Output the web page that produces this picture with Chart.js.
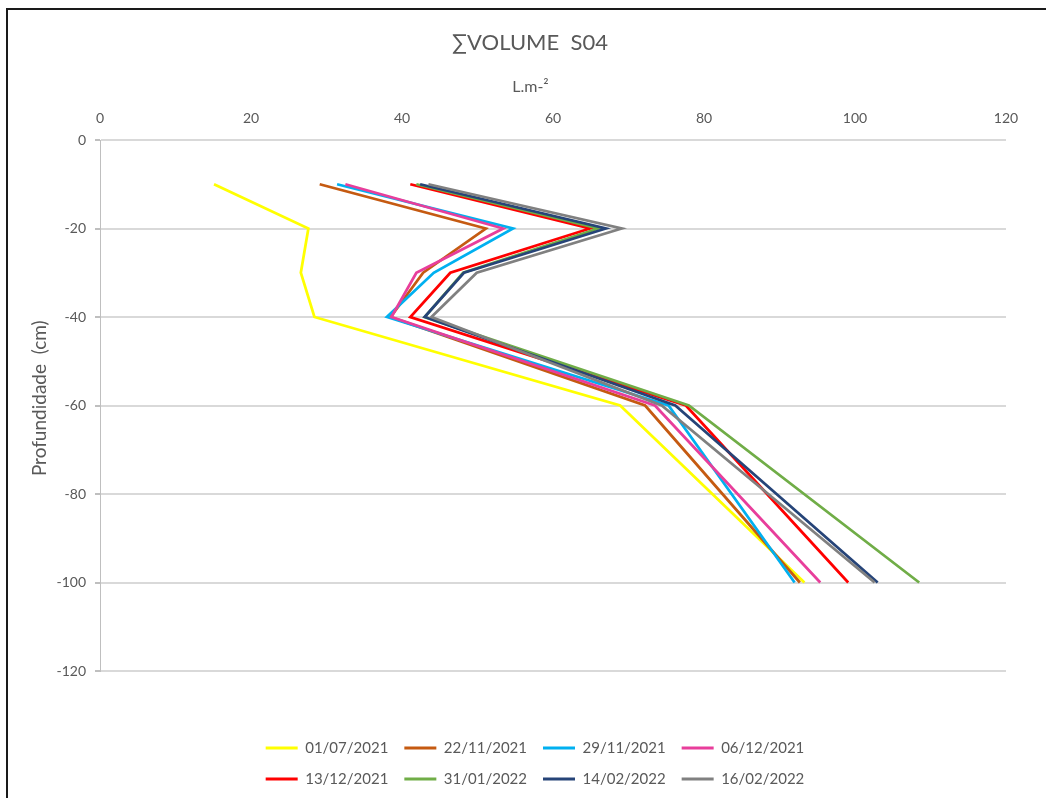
<!DOCTYPE html>
<html>
<head>
<meta charset="utf-8">
<script src="https://cdn.jsdelivr.net/npm/chart.js@4/dist/chart.umd.min.js"></script>
<style>
  html, body { margin: 0; padding: 0; background: #fff; overflow: hidden; }
  #frame { position: absolute; left: 6px; top: 8px; width: 1100px; height: 900px; border: 2px solid #1a1a1a; }
  #wrap { position: absolute; left: 0; top: 0; width: 1046px; height: 798px; }
</style>
</head>
<body>
<div id="frame"></div>
<div id="wrap"><canvas id="grafico"></canvas></div>
<script>
// profundidade (cm) de cada leitura
const profundidades = [-10, -20, -30, -40, -60, -100];

const datas = ["01/07/2021", "22/11/2021", "29/11/2021", "06/12/2021",
               "13/12/2021", "31/01/2022", "14/02/2022", "16/02/2022"];
const cores = ["#FFFF00", "#C55A11", "#00B0F0", "#E83E9B",
               "#FF0000", "#70AD47", "#264478", "#808080"];

// volume acumulado (L.m-2) por data
const v01_07_2021 = [15.1, 27.6, 26.6, 28.4, 68.9, 93.3];
const v22_11_2021 = [29.1, 51.1, 42.8, 38.5, 72.2, 92.7];
const v29_11_2021 = [31.4, 54.7, 44.2, 38.0, 75.3, 92.0];
const v06_12_2021 = [32.5, 53.4, 41.9, 38.6, 73.5, 95.4];
const v13_12_2021 = [41.1, 64.9, 46.4, 41.1, 77.6, 99.1];
const v31_01_2022 = [41.9, 66.0, 48.1, 43.0, 78.0, 108.5];
const v14_02_2022 = [42.4, 67.0, 48.2, 43.0, 76.2, 103.0];
const v16_02_2022 = [43.5, 69.1, 49.9, 43.9, 74.4, 102.6];

const series = [v01_07_2021, v22_11_2021, v29_11_2021, v06_12_2021,
                v13_12_2021, v31_01_2022, v14_02_2022, v16_02_2022];

const xTicks = [0, 20, 40, 60, 80, 100, 120];
const yTicks = [0, -20, -40, -60, -80, -100, -120];

const cinza = "#595959";
const fonte = "Lato, 'Open Sans', sans-serif";

// legenda em duas linhas de 4 e titulo um pouco deslocado, como no Excel
const ajusteLayout = {
  id: "ajusteLayout",
  afterLayout(chart) {
    const lg = chart.legend;
    const w = 600;
    lg.maxWidth = w;
    lg.fit();
    lg.width = w;
    lg.left = (chart.width - w) / 2 + 12;
    lg.right = lg.left + w;
    lg.top = 724.5;
    lg.bottom = lg.top + lg.height;

    const tb = chart.titleBlock;
    tb.left += 22;
    tb.right += 22;
  }
};

const ctx = document.getElementById("grafico").getContext("2d");
new Chart(ctx, {
  type: "line",
  data: {
    datasets: series.map((vals, i) => ({
      label: datas[i],
      data: vals.map((v, k) => ({ x: v, y: profundidades[k] })),
      borderColor: cores[i],
      backgroundColor: cores[i],
      borderWidth: 2.75,
      pointRadius: 0,
      tension: 0,
      fill: false,
      order: series.length - i
    }))
  },
  options: {
    responsive: true,
    maintainAspectRatio: false,
    animation: false,
    layout: { padding: { left: 10, right: 40, top: 0, bottom: 55 } },
    plugins: {
      tooltip: { enabled: false },
      title: {
        display: true,
        text: "∑VOLUME  S04",
        color: cinza,
        font: { family: fonte, size: 22, weight: "normal" },
        padding: { top: 30, bottom: 0 }
      },
      legend: {
        position: "bottom",
        labels: {
          color: cinza,
          font: { family: fonte, size: 15 },
          boxWidth: 32,
          boxHeight: 3,
          padding: 16,
          sort: (a, b) => a.datasetIndex - b.datasetIndex,
          generateLabels: chart =>
            Chart.defaults.plugins.legend.labels.generateLabels(chart)
              .map(l => ({ ...l, lineWidth: 0 }))
        }
      }
    },
    scales: {
      x: {
        type: "linear",
        position: "top",
        min: 0,
        max: 120,
        afterBuildTicks: s => { s.ticks = xTicks.map(v => ({ value: v })); },
        afterFit: s => { s.height = 83.6; },
        grid: { display: false, drawTicks: false },
        border: { display: false },
        ticks: { color: cinza, font: { family: fonte, size: 14 }, padding: 13, maxRotation: 0 },
        title: {
          display: true,
          text: "L.m-²" + " ".repeat(11),
          color: cinza,
          font: { family: fonte, size: 16 },
          padding: { top: 21, bottom: 0 }
        }
      },
      y: {
        type: "linear",
        min: -120,
        max: 0,
        afterBuildTicks: s => { s.ticks = yTicks.map(v => ({ value: v })); },
        afterFit: s => { s.width = 90; },
        grid: { color: "#d9d9d9", lineWidth: 2, tickLength: 5, tickColor: "#bfbfbf" },
        border: { color: "#bfbfbf", width: 1 },
        ticks: { color: cinza, font: { family: fonte, size: 14 }, padding: 9 },
        title: {
          display: true,
          text: " ".repeat(3) + "Profundidade  (cm)",
          color: cinza,
          font: { family: fonte, size: 19 },
          padding: { top: 18, bottom: 0 }
        }
      }
    }
  },
  plugins: [ajusteLayout]
});
</script>
</body>
</html>
